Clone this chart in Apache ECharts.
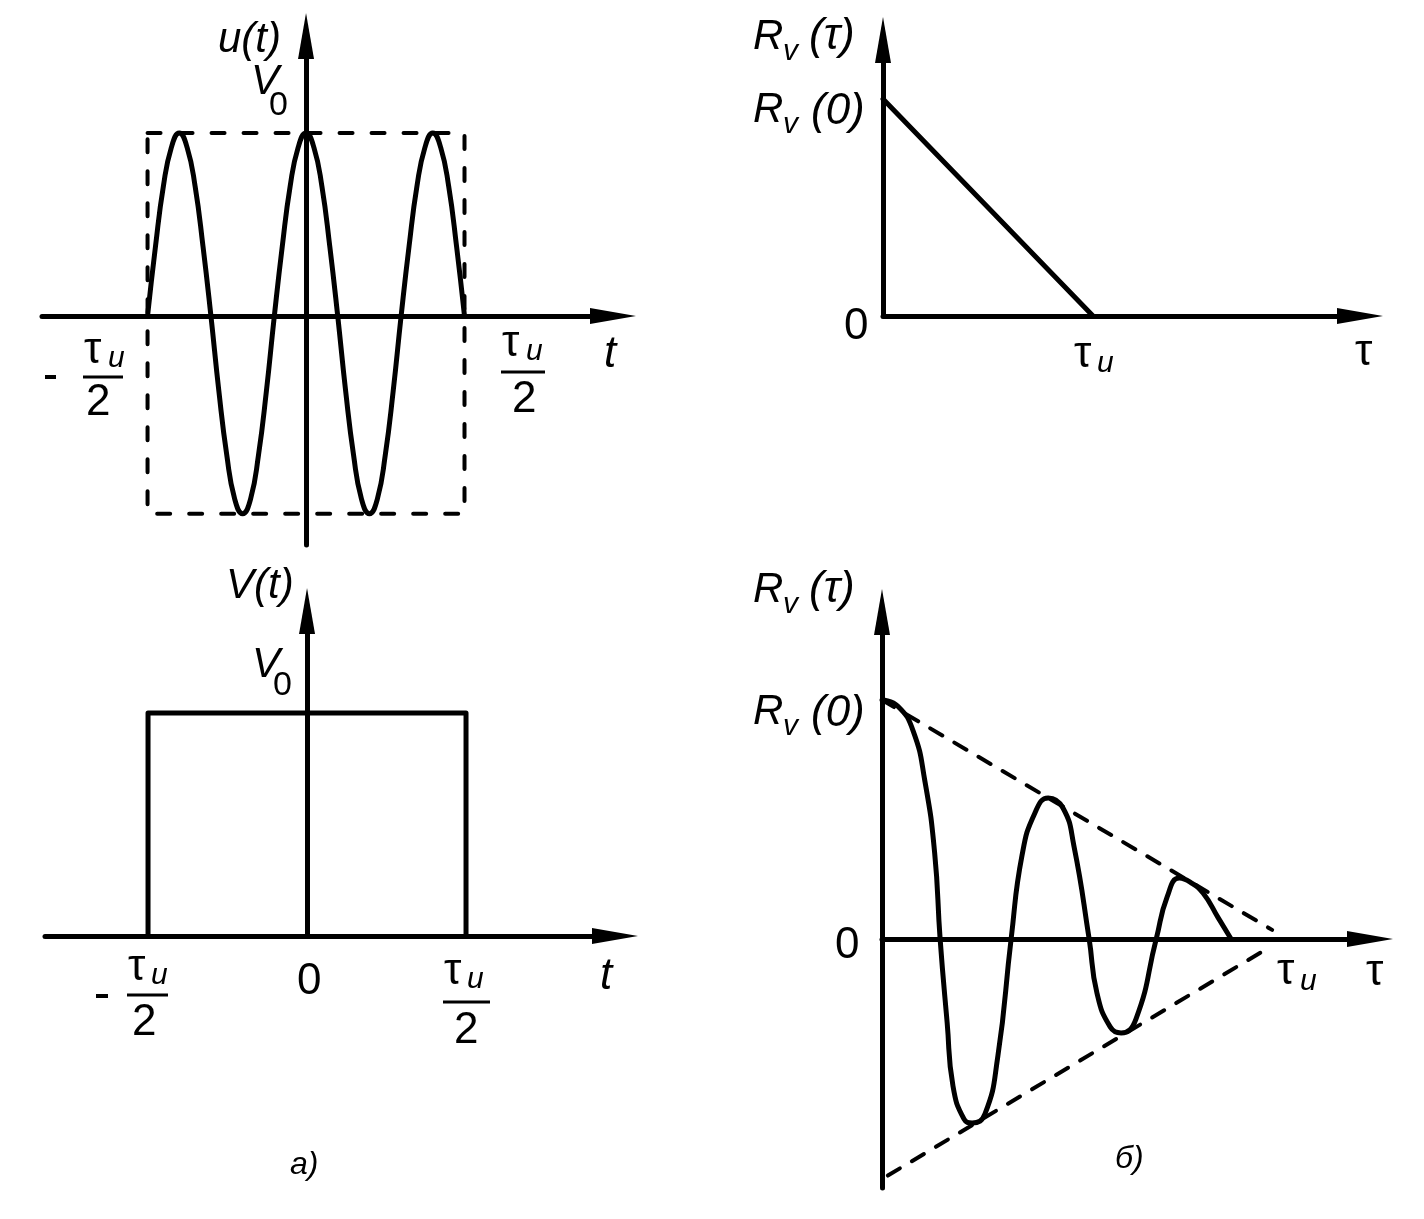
<!DOCTYPE html>
<html>
<head>
<meta charset="utf-8">
<title>u(t), V(t), R_v(τ)</title>
<style>
  html, body { margin: 0; padding: 0; background: #fff; }
  #chart { width: 1424px; height: 1219px; }
</style>
</head>
<body>
<div id="chart"></div>
<script src="https://cdn.jsdelivr.net/npm/echarts@6.0.0/dist/echarts.min.js"></script>
<script>
    // а) радиоимпульс u(t): t в долях tu/2, u в долях V0
    var uT = [-1, -0.95, -0.9, -0.85, -0.8, -0.75, -0.7, -0.65, -0.6, -0.55, -0.5, -0.45, -0.4, -0.35, -0.3, -0.25, -0.2, -0.15, -0.1, -0.05,
              0, 0.05, 0.1, 0.15, 0.2, 0.25, 0.3, 0.35, 0.4, 0.45, 0.5, 0.55, 0.6, 0.65, 0.7, 0.75, 0.8, 0.85, 0.9, 0.95, 1];
    var uV = [0, 0.38, 0.71, 0.92, 1, 0.92, 0.71, 0.38, 0, -0.41, -0.76, -1.0, -1.08, -1.0, -0.76, -0.41, 0, 0.38, 0.71, 0.92,
              1, 0.92, 0.71, 0.38, 0, -0.41, -0.76, -1.0, -1.08, -1.0, -0.76, -0.41, 0, 0.38, 0.71, 0.92, 1, 0.92, 0.71, 0.38, 0];
    // пунктирный прямоугольник вокруг u(t)
    var boxT = [-1, 1, 1, -1, -1];
    var boxV = [1, 1, -1.08, -1.08, 1];
    // видеоимпульс V(t)
    var vT = [-1, -1, 1, 1];
    var vV = [0, 1, 1, 0];
    // б) R_v(tau) видеоимпульса, tau в долях tu
    var rT = [0, 1];
    var rR = [1, 0];
    // R_v(tau) радиоимпульса
    var kT = [0, 0.04, 0.08, 0.11, 0.135, 0.149, 0.167, 0.182, 0.21, 0.231, 0.264, 0.297, 0.331, 0.359, 0.392,
              0.426, 0.464, 0.492, 0.531, 0.551, 0.585, 0.613, 0.651, 0.703, 0.731, 0.762, 0.79, 0.823, 0.862, 0.895];
    var kR = [1, 0.975, 0.87, 0.66, 0.36, 0, -0.35, -0.616, -0.753, -0.77, -0.732, -0.49, 0, 0.35, 0.527,
              0.59, 0.548, 0.389, 0, -0.226, -0.368, -0.393, -0.335, 0, 0.176, 0.255, 0.238, 0.192, 0.088, 0];
    // огибающие (пунктир)
    var envUpT = [0, 1.0];
    var envUpR = [1, 0.038];
    var envLoT = [0.015, 0.995];
    var envLoR = [-0.99, -0.033];

    var FONT = '"Liberation Sans", Arial, sans-serif';

    function pairs(xs, ys) {
        return xs.map(function (x, i) { return [x, ys[i]]; });
    }

    function axis(gi, min, max) {
        return {
            type: 'value', gridIndex: gi, min: min, max: max,
            axisLine: {
                show: true, onZero: true,
                symbol: ['none', 'triangle'], symbolSize: [16, 46],
                lineStyle: { color: '#000', width: 5 }
            },
            axisTick: { show: false },
            axisLabel: { show: false },
            splitLine: { show: false }
        };
    }

    function line(gi, data, width, dash, smooth) {
        return {
            type: 'line', xAxisIndex: gi, yAxisIndex: gi,
            data: data, showSymbol: false, silent: true,
            smooth: smooth || false,
            lineStyle: { color: '#000', width: width, type: dash || 'solid', join: 'round', cap: 'round' },
            z: 3
        };
    }

    function txt(s, x, y, size, italic) {
        return {
            type: 'text', x: x, y: y, silent: true,
            style: {
                text: s, fill: '#000', fontSize: size, fontFamily: FONT,
                fontStyle: italic ? 'italic' : 'normal',
                align: 'left', verticalAlign: 'middle'
            }
        };
    }

    function bar(x1, x2, y, w) {
        return {
            type: 'line', silent: true,
            shape: { x1: x1, y1: y, x2: x2, y2: y },
            style: { stroke: '#000', lineWidth: w || 3 }
        };
    }

    var labels = [
        // а) верхний
        txt('u(t)', 218, 40, 42, true),
        txt('V', 251, 82, 42, true), txt('0', 269, 106, 34, false),
        bar(45, 56, 377, 4),
        txt('τ', 84, 351, 44, false), txt('u', 108, 359, 30, true), bar(83, 123, 377), txt('2', 86, 403, 44, false),
        txt('τ', 502, 344, 44, false), txt('u', 526, 352, 30, true), bar(501, 545, 372), txt('2', 512, 400, 44, false),
        txt('t', 604, 355, 44, true),
        // а) нижний
        txt('V(t)', 226, 586, 42, true),
        txt('V', 252, 665, 42, true), txt('0', 273, 686, 34, false),
        bar(96, 108, 996, 4),
        txt('τ', 128, 968, 44, false), txt('u', 151, 976, 30, true), bar(127, 168, 995), txt('2', 132, 1023, 44, false),
        txt('0', 297, 982, 44, false),
        txt('τ', 444, 972, 44, false), txt('u', 467, 980, 30, true), bar(443, 490, 1002), txt('2', 454, 1031, 44, false),
        txt('t', 600, 977, 44, true),
        txt('а)', 290, 1165, 32, true),
        // б) верхний
        txt('R', 753, 37, 42, true), txt('v', 783, 52, 30, true), txt('(τ)', 809, 37, 44, true),
        txt('R', 753, 110, 42, true), txt('v', 783, 125, 30, true), txt('(0)', 811, 112, 44, true),
        txt('0', 844, 327, 44, false),
        txt('τ', 1074, 355, 44, false), txt('u', 1097, 364, 30, true),
        txt('τ', 1355, 353, 44, false),
        // б) нижний
        txt('R', 753, 590, 42, true), txt('v', 783, 605, 30, true), txt('(τ)', 809, 590, 44, true),
        txt('R', 753, 712, 42, true), txt('v', 783, 727, 30, true), txt('(0)', 811, 714, 44, true),
        txt('0', 835, 946, 44, false),
        txt('τ', 1277, 972, 44, false), txt('u', 1300, 982, 30, true),
        txt('τ', 1366, 973, 44, false),
        txt('б)', 1115, 1159, 32, true)
    ];

    var myChart = echarts.init(document.getElementById('chart'));
    var option = {
        animation: false,
        backgroundColor: '#fff',
        grid: [
            { left: 42, top: 36, width: 571, height: 509, outerBoundsMode: 'none' },
            { left: 45, top: 611, width: 570, height: 325, outerBoundsMode: 'none' },
            { left: 883, top: 40, width: 477, height: 276, outerBoundsMode: 'none' },
            { left: 882, top: 612, width: 488, height: 576, outerBoundsMode: 'none' }
        ],
        xAxis: [axis(0, -1.666, 1.937), axis(1, -1.648, 1.937), axis(2, 0, 2.271), axis(3, 0, 1.251)],
        yAxis: [axis(0, -1.251, 1.53), axis(1, 0, 1.457), axis(2, 0, 1.272), axis(3, -1.042, 1.368)],
        series: [
            line(0, pairs(boxT, boxV), 4, [13, 19]),
            line(0, pairs(uT, uV), 5, 'solid', 0.5),
            line(1, pairs(vT, vV), 5),
            line(2, pairs(rT, rR), 5),
            line(3, pairs(envUpT, envUpR), 4, [14, 14]),
            line(3, pairs(envLoT, envLoR), 4, [14, 14]),
            line(3, pairs(kT, kR), 5, 'solid', 0.5)
        ],
        graphic: labels
    };
    myChart.setOption(option);
</script>
</body>
</html>
